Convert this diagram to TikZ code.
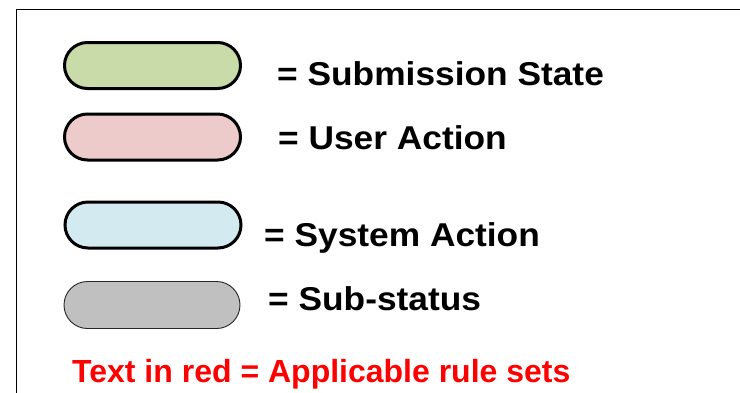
\documentclass[tikz,border=0pt]{standalone}
\usepackage{fontspec}
\setmainfont{Liberation Sans}
\definecolor{stategreen}{RGB}{202,219,170}
\definecolor{userpink}{RGB}{237,203,203}
\definecolor{sysblue}{RGB}{211,235,240}
\definecolor{subgray}{RGB}{192,192,192}
\definecolor{rulered}{RGB}{255,0,0}
\begin{document}
\begin{tikzpicture}[x=1pt,y=-1pt,
  pill/.style={draw=black, line width=3pt, rounded corners=23pt, minimum width=176pt, minimum height=46pt, inner sep=0pt},
  thinpill/.style={draw=black!85, line width=0.9pt, rounded corners=23.5pt, minimum width=176pt, minimum height=47pt, inner sep=0pt},
  legtext/.style={anchor=base west, inner sep=0pt, font=\fontsize{33}{39}\selectfont\bfseries},
  redtext/.style={anchor=base west, inner sep=0pt, text=rulered, font=\fontsize{32}{38}\selectfont\bfseries}]
\useasboundingbox (0,0) rectangle (740,392);
\fill[white] (0,0) rectangle (740,392);
\coordinate (ftr) at (741,9.5);
\coordinate (fc) at (16,9.5);
\coordinate (fbl) at (16,393);
\draw[line width=1pt] (ftr) -- (fc) -- (fbl);
\node[pill, fill=stategreen] (state) at (152.5,65.5) {};
\node[pill, fill=userpink] (user) at (152.5,137) {};
\node[pill, fill=sysblue] (sys) at (153,225) {};
\node[thinpill, fill=subgray] (sub) at (152,305) {};
\node[legtext] (tstate) at (277,85) {\scalebox{1.07}[1]{= Submission State}};
\node[legtext] (tuser) at (278,149) {\scalebox{1.07}[1]{= User Action}};
\node[legtext] (tsys) at (264,246) {\scalebox{1.07}[1]{= System Action}};
\node[legtext] (tsub) at (268,310) {\scalebox{1.07}[1]{= Sub-status}};
\node[redtext] (tred) at (72,382) {Text in red = Applicable rule sets};
\end{tikzpicture}
\end{document}
